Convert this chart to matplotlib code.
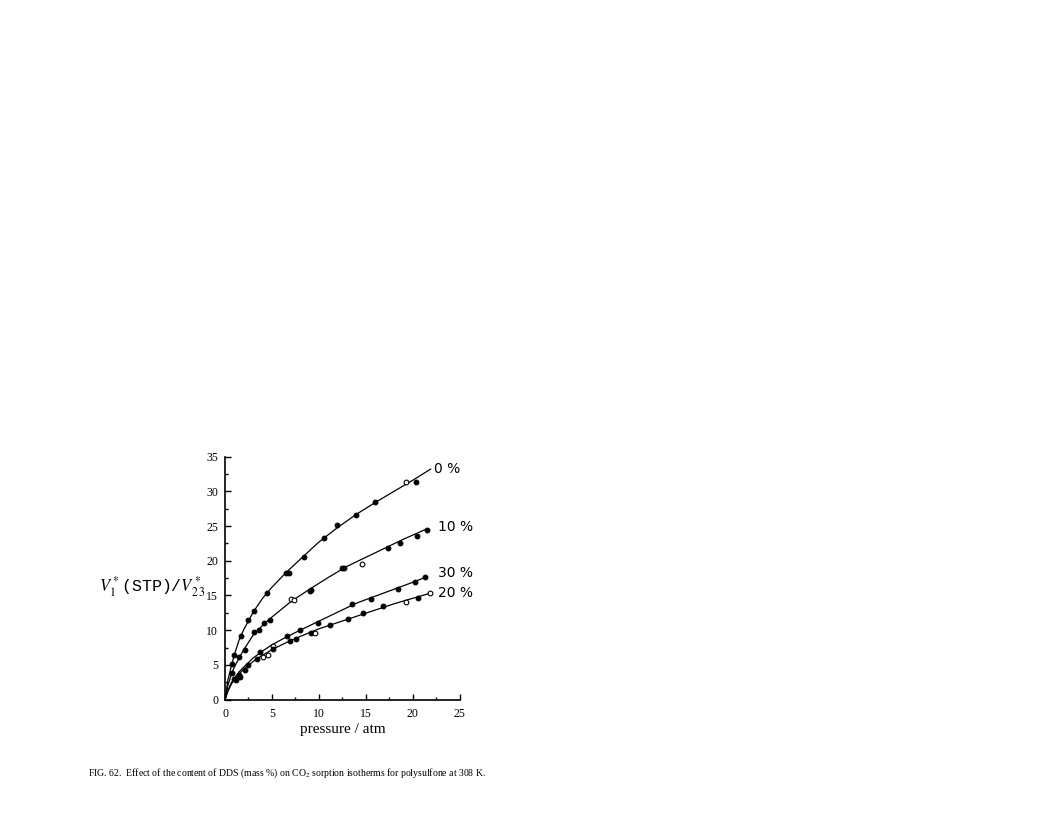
import matplotlib
matplotlib.use("Agg")
import matplotlib.pyplot as plt
from matplotlib.ticker import MultipleLocator

plt.rcParams["font.family"] = ["Liberation Serif", "DejaVu Serif"]
plt.rcParams["mathtext.fontset"] = "stix"

# measured points (pressure / atm, sorbed volume)
p0 = [0.7, 1.0, 1.7, 2.5, 3.05, 4.5, 6.5, 6.8, 8.4, 10.5, 11.9, 14.0, 16.0, 19.3, 20.3]
v0 = [5.1, 6.4, 9.2, 11.5, 12.7, 15.4, 18.3, 18.3, 20.6, 23.3, 25.2, 26.6, 28.5, 31.3, 31.4]

p10 = [0.7, 1.5, 2.1, 3.05, 3.6, 4.2, 4.8, 7.0, 7.3, 9.0, 9.2, 12.5, 12.7, 14.6, 17.4, 18.6, 20.5, 21.5]
v10 = [3.8, 6.2, 7.2, 9.7, 10.1, 11.0, 11.5, 14.5, 14.4, 15.6, 15.8, 19.0, 18.9, 19.5, 21.9, 22.6, 23.6, 24.5]

p30 = [1.0, 1.5, 2.5, 3.75, 5.15, 6.6, 8.0, 9.95, 13.5, 15.5, 18.4, 20.2, 21.3]
v30 = [3.0, 3.6, 5.0, 6.8, 7.7, 9.1, 10.1, 11.1, 13.8, 14.5, 15.9, 16.9, 17.7]

p20 = [1.2, 1.6, 2.1, 3.4, 4.0, 4.6, 5.15, 6.9, 7.6, 9.2, 9.6, 11.2, 13.1, 14.7, 16.8, 19.3, 20.6, 21.8]
v20 = [2.8, 3.3, 4.2, 5.8, 6.1, 6.5, 7.3, 8.4, 8.7, 9.6, 9.6, 10.8, 11.6, 12.5, 13.5, 14.1, 14.6, 15.3]

# points drawn as open circles (index into the lists above)
open0 = [13]
open10 = [7, 8, 13]
open30 = [4]
open20 = [4, 5, 10, 15, 17]

# fitted curves
c0x = [0, 0.3, 0.7, 1.0, 1.5, 2, 3, 4, 5, 6.5, 8, 10, 12, 14, 16, 18, 20, 21.9]
c0y = [0, 2.8, 5.0, 6.5, 8.6, 10.1, 12.6, 14.6, 16.2, 18.3, 20.2, 22.7, 24.8, 26.7, 28.4, 30.0, 31.6, 33.2]
c10x = [0, 0.3, 0.7, 1.0, 1.5, 2, 3, 4, 5, 7, 9, 11, 13, 15, 17, 19, 21.5]
c10y = [0, 2.0, 3.8, 4.7, 6.0, 7.2, 9.3, 10.7, 11.9, 14.1, 15.9, 17.6, 19.2, 20.5, 21.8, 23.1, 24.6]
c30x = [0, 0.3, 0.7, 1.0, 1.5, 2, 3, 4, 5, 6.5, 8, 10, 12, 14, 16, 18, 20, 21.5]
c30y = [0, 1.3, 2.5, 3.1, 4.0, 4.7, 6.0, 7.0, 7.9, 9.0, 10.0, 11.3, 12.6, 13.9, 14.9, 15.9, 16.9, 17.7]
c20x = [0, 0.3, 0.7, 1.0, 1.5, 2, 3, 4, 5, 6.5, 8, 10, 12, 14, 16, 18, 20, 21.8]
c20y = [0, 1.2, 2.3, 2.9, 3.7, 4.4, 5.5, 6.4, 7.2, 8.2, 9.1, 10.2, 11.1, 12.0, 12.9, 13.8, 14.6, 15.3]

labels = ["0 %", "10 %", "30 %", "20 %"]
label_x = [22.3, 22.7, 22.7, 22.7]
label_y = [33.2, 24.9, 18.3, 15.4]


def draw_series(ax, px, vy, open_idx, cx, cy):
    ax.plot(cx, cy, color="black", lw=0.9)
    for i, (x, y) in enumerate(zip(px, vy)):
        face = "white" if i in open_idx else "black"
        ax.plot(x, y, marker="o", ms=3.4, mfc=face, mec="black", mew=0.8, ls="none")


fig = plt.figure(figsize=(10.56, 8.14), dpi=100)
ax = fig.add_axes([0.2131, 0.1405, 0.2222, 0.2985])

draw_series(ax, p0, v0, open0, c0x, c0y)
draw_series(ax, p10, v10, open10, c10x, c10y)
draw_series(ax, p30, v30, open30, c30x, c30y)
draw_series(ax, p20, v20, open20, c20x, c20y)

for lab, x, y in zip(labels, label_x, label_y):
    ax.text(x, y, lab, fontsize=10, family="DejaVu Sans", va="center", ha="left")

ax.set_xlim(0, 25)
ax.set_ylim(0, 35)
ax.xaxis.set_major_locator(MultipleLocator(5))
ax.xaxis.set_minor_locator(MultipleLocator(2.5))
ax.yaxis.set_major_locator(MultipleLocator(5))
ax.yaxis.set_minor_locator(MultipleLocator(2.5))
ax.tick_params(which="both", direction="in", labelsize=8.5, width=1)
ax.tick_params(which="major", length=4)
ax.tick_params(axis="x", pad=6)
ax.tick_params(axis="y", pad=5)
ax.tick_params(which="minor", length=2)
ax.spines["top"].set_visible(False)
ax.spines["right"].set_visible(False)
ax.spines["left"].set_linewidth(1.2)
ax.spines["bottom"].set_linewidth(1.2)
ax.set_xlabel("pressure / atm", fontsize=11, labelpad=2)

fig.text(0.094, 0.279, r"$V_1^*$(STP)/$V_{2\,3}^*$", fontsize=12,
         family="Liberation Mono", va="center", ha="left")

fig.text(0.083, 0.05,
         "FIG. 62.  Effect of the content of DDS (mass %) on CO$_2$ sorption isotherms for polysulfone at 308 K.",
         fontsize=7.0, va="center", ha="left")

fig.savefig("out.png", dpi=100)
